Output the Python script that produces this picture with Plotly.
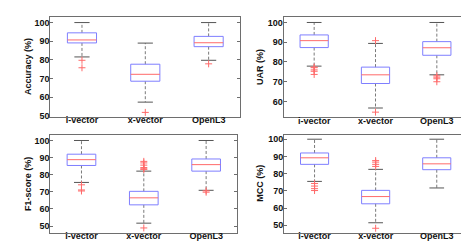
import plotly.graph_objects as go

models = ["i-vector", "x-vector", "OpenL3"]

acc_hi = [100.0, 89.0, 100.0]
acc_q3 = [94.5, 77.7, 92.6]
acc_med = [90.7, 72.3, 89.2]
acc_q1 = [89.1, 68.6, 87.1]
acc_lo = [81.6, 57.4, 79.8]
acc_out = [[79.8, 75.8], [51.9], [77.9]]

uar_hi = [100.0, 89.4, 100.0]
uar_q3 = [93.7, 77.4, 90.3]
uar_med = [90.8, 73.5, 87.2]
uar_q1 = [87.3, 69.1, 83.4]
uar_lo = [77.9, 56.7, 73.5]
uar_out = [[77.4, 77.1, 76.0, 75.3, 73.7], [90.8, 54.6], [73.0, 72.3, 71.5, 70.0]]

f1_hi = [100.0, 82.1, 100.0]
f1_q3 = [92.0, 70.3, 89.2]
f1_med = [88.8, 66.5, 85.9]
f1_q1 = [85.4, 62.4, 82.1]
f1_lo = [75.5, 51.7, 70.9]
f1_out = [[74.1, 71.1, 70.5], [87.8, 86.9, 85.6, 84.2, 83.5, 83.1, 48.9], [70.6, 69.8]]

mcc_hi = [100.0, 82.5, 100.0]
mcc_q3 = [92.0, 70.3, 89.2]
mcc_med = [89.2, 66.7, 85.7]
mcc_q1 = [85.4, 62.5, 82.3]
mcc_lo = [75.5, 51.5, 71.7]
mcc_out = [[74.3, 72.8, 71.3, 70.2], [87.6, 86.7, 85.4, 84.2, 48.3], []]

panels = [
    ("Accuracy (%)", acc_hi, acc_q3, acc_med, acc_q1, acc_lo, acc_out),
    ("UAR (%)", uar_hi, uar_q3, uar_med, uar_q1, uar_lo, uar_out),
    ("F1-score (%)", f1_hi, f1_q3, f1_med, f1_q1, f1_lo, f1_out),
    ("MCC (%)", mcc_hi, mcc_q3, mcc_med, mcc_q1, mcc_lo, mcc_out),
]

W, H = 469, 245
xdoms = [(42.3, 232.3), (275.5, 459.5), (42.3, 229.3), (276.0, 459.3)]
ydoms = [(9.3, 110.5), (9.3, 110.7), (129.3, 228.3), (129.0, 228.3)]
title_x = [20.0, 252.0, 20.0, 252.0]
yranges = [(49.6, 102.9), (52.2, 102.7), (46.2, 103.1), (45.8, 102.5)]
yticks = [[50, 60, 70, 80, 90, 100], [60, 70, 80, 90, 100],
          [50, 60, 70, 80, 90, 100], [50, 60, 70, 80, 90, 100]]

BOX_HALF = 0.23
CAP_HALF = 0.12
FONT = "Liberation Sans, Arial, Helvetica, sans-serif"
BLUE = "#7f7fff"
RED = "#ff6a6a"
GRAY = "#7a7a7a"

fig = go.Figure()
layout = {}
annotations = []
pos = [1, 2, 3]

for i, (title, hi, q3, med, q1, lo, outs) in enumerate(panels):
    sfx = "" if i == 0 else str(i + 1)
    xa, ya = "x" + sfx, "y" + sfx

    # whiskers (dashed)
    wx, wy = [], []
    for p, a, b, c, d in zip(pos, hi, q3, q1, lo):
        wx += [p, p, None, p, p, None]
        wy += [b, a, None, c, d, None]
    fig.add_trace(go.Scatter(x=wx, y=wy, mode="lines", xaxis=xa, yaxis=ya,
                             line=dict(color=GRAY, width=1, dash="3px,2px"),
                             hoverinfo="skip", showlegend=False))
    # caps
    cx, cy = [], []
    for p, a, d in zip(pos, hi, lo):
        cx += [p - CAP_HALF, p + CAP_HALF, None, p - CAP_HALF, p + CAP_HALF, None]
        cy += [a, a, None, d, d, None]
    fig.add_trace(go.Scatter(x=cx, y=cy, mode="lines", xaxis=xa, yaxis=ya,
                             line=dict(color="#555555", width=1),
                             hoverinfo="skip", showlegend=False))
    # boxes
    bx, by = [], []
    for p, b, c in zip(pos, q3, q1):
        bx += [p - BOX_HALF, p + BOX_HALF, p + BOX_HALF, p - BOX_HALF, p - BOX_HALF, None]
        by += [c, c, b, b, c, None]
    fig.add_trace(go.Scatter(x=bx, y=by, mode="lines", xaxis=xa, yaxis=ya,
                             line=dict(color=BLUE, width=1),
                             hoverinfo="skip", showlegend=False))
    # medians
    mx, my = [], []
    for p, m in zip(pos, med):
        mx += [p - BOX_HALF, p + BOX_HALF, None]
        my += [m, m, None]
    fig.add_trace(go.Scatter(x=mx, y=my, mode="lines", xaxis=xa, yaxis=ya,
                             line=dict(color=RED, width=1),
                             hoverinfo="skip", showlegend=False))
    # outliers
    ox, oy = [], []
    for p, lst in zip(pos, outs):
        for v in lst:
            ox.append(p)
            oy.append(v)
    fig.add_trace(go.Scatter(x=ox, y=oy, mode="markers", xaxis=xa, yaxis=ya,
                             marker=dict(symbol="cross-thin", size=5,
                                         line=dict(color=RED, width=1)),
                             hoverinfo="skip", showlegend=False))

    x0, x1 = xdoms[i]
    y0, y1 = ydoms[i]
    layout["xaxis" + sfx] = dict(
        domain=[x0 / W, x1 / W], anchor=ya, range=[0.5, 3.5],
        tickvals=pos, ticktext=models, ticks="", showgrid=False, zeroline=False,
        showline=True, linecolor="#6e6e6e", linewidth=1, mirror=True,
        tickfont=dict(family=FONT, size=9, color="#111", weight="bold"),
        ticklabelstandoff=-5,
    )
    layout["yaxis" + sfx] = dict(
        domain=[1 - y1 / H, 1 - y0 / H], anchor=xa, range=list(yranges[i]),
        tickvals=yticks[i], ticks="inside", ticklen=3, tickcolor="#6e6e6e",
        showgrid=False, zeroline=False,
        showline=True, linecolor="#6e6e6e", linewidth=1, mirror="allticks",
        tickfont=dict(family=FONT, size=9, color="#111", weight="bold"),
        ticklabelstandoff=-2,
    )
    annotations.append(dict(
        text=title, xref="paper", yref="paper",
        x=title_x[i] / W, y=1 - (y0 + y1) / 2 / H,
        xanchor="center", yanchor="middle", textangle=-90, showarrow=False,
        font=dict(family=FONT, size=9, color="#111", weight="bold"),
    ))

fig.update_layout(
    width=W, height=H, margin=dict(l=0, r=0, t=0, b=0),
    paper_bgcolor="white", plot_bgcolor="white", showlegend=False,
    annotations=annotations,
    **layout,
)

fig.write_html("out.html")
